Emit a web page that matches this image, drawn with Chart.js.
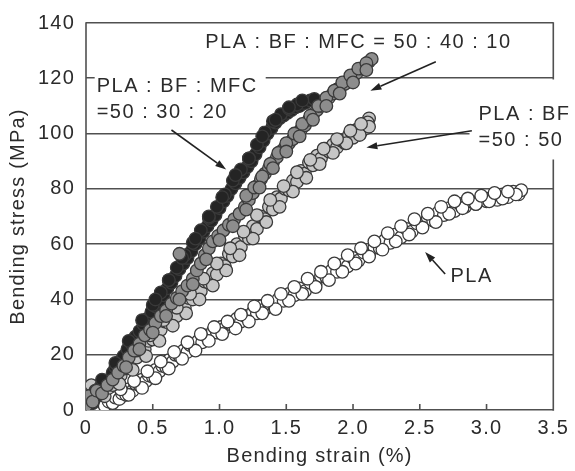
<!DOCTYPE html>
<html>
<head>
<meta charset="utf-8">
<script src="https://cdn.jsdelivr.net/npm/chart.js@4.4.1/dist/chart.umd.min.js"></script>
<style>
  html, body { margin: 0; padding: 0; background: #ffffff; }
  #c { display: block; }
</style>
</head>
<body>
<canvas id="c" width="575" height="471"></canvas>
<script>
// ---------------- data ----------------
const xTickValues = [0, 0.5, 1.0, 1.5, 2.0, 2.5, 3.0, 3.5];
const yTickValues = [0, 20, 40, 60, 80, 100, 120, 140];

// PLA (white)
const plaStrain = [0.10,0.14,0.17,0.20,0.22,0.25,0.27,0.30,0.32,0.35,0.37,0.40,0.42,0.45,0.47,0.50,0.52,0.55,0.57,0.60,
  0.62,0.65,0.67,0.70,0.73,0.76,0.78,0.81,0.84,0.87,0.89,0.92,0.95,0.98,1.01,1.04,1.07,1.10,1.13,1.16,
  1.19,1.22,1.25,1.28,1.31,1.34,1.37,1.41,1.44,1.48,1.52,1.56,1.60,1.64,1.68,1.72,1.76,1.80,1.84,1.88,
  1.92,1.96,2.00,2.04,2.08,2.12,2.16,2.20,2.24,2.28,2.32,2.36,2.40,2.44,2.48,2.52,2.56,2.60,2.64,2.68,
  2.72,2.76,2.80,2.84,2.88,2.92,2.96,3.00,3.04,3.08,3.12,3.16,3.20,3.24,3.26,
  0.32,0.42,0.52,0.62,0.72,0.82,0.92,1.02,1.12,1.22,1.32,1.42,1.52,1.62,1.72,1.82,1.92,2.02,2.12,2.22,
  2.32,2.42,2.52,2.62,2.72,2.82,2.92,3.02,3.12,3.22,
  0.26,0.36,0.46,0.56,0.66,0.76,0.86,0.96,1.06,1.16,1.26,1.36,1.46,1.56,1.66,1.76,1.86,1.96,2.06,2.16,
  2.26,2.36,2.46,2.56,2.66,2.76,2.86,2.96,3.06,3.16];
const plaStress = [0.5,1.5,3.0,2.5,4.5,4.0,6.0,5.5,7.5,7.0,9.5,9.0,11.0,10.5,12.5,12.0,14.5,14.0,16.0,15.5,
  18.0,17.5,20.0,19.5,21.5,21.0,23.5,23.0,25.0,24.5,27.0,26.5,28.5,28.0,30.0,29.5,31.5,30.5,33.0,32.0,
  34.0,33.5,35.5,35.0,37.5,36.5,38.5,37.5,40.0,39.5,42.0,41.5,44.0,43.0,46.0,45.5,48.5,48.0,50.5,50.0,
  52.5,52.0,55.0,54.0,57.0,56.0,59.0,58.5,61.5,60.5,63.5,62.5,65.5,64.5,67.5,67.0,69.5,68.5,71.5,70.5,
  73.0,72.0,74.5,73.5,75.5,74.5,76.5,75.5,77.0,76.0,78.0,77.0,79.0,78.0,79.5,
  5.5,8.0,11.5,15.0,18.5,21.5,25.0,27.5,29.5,32.0,35.0,36.5,39.5,42.0,44.5,47.0,50.0,53.0,55.5,58.0,
  61.0,63.5,66.0,68.0,71.0,73.0,74.5,75.5,76.5,78.0,
  7.5,10.5,14.0,17.5,21.0,24.5,27.5,30.0,32.0,34.5,37.5,39.5,42.0,44.5,47.5,50.0,53.0,56.0,58.5,61.0,
  64.0,66.5,69.0,71.0,73.5,75.5,76.5,77.5,78.5,79.0];

// PLA : BF = 50 : 50 (light grey)
const bfStrain = [0.00,0.02,0.04,0.06,0.10,0.14,0.17,0.20,0.23,0.26,0.29,0.32,0.35,0.38,0.41,0.44,0.47,0.50,0.53,0.56,
  0.59,0.62,0.65,0.68,0.71,0.74,0.77,0.80,0.83,0.86,0.89,0.92,0.95,0.98,1.01,1.04,1.07,1.10,1.13,1.16,
  1.19,1.22,1.25,1.28,1.31,1.34,1.37,1.40,1.43,1.46,1.49,1.52,1.55,1.58,1.61,1.64,1.67,1.70,1.73,1.76,
  1.79,1.82,1.85,1.88,1.91,1.94,1.97,2.00,2.03,2.06,2.08,2.10,2.12,2.11,
  0.25,0.35,0.45,0.55,0.65,0.75,0.85,0.95,1.05,1.15,1.25,1.35,1.45,1.55,1.65,1.75,1.85,1.95,2.05,2.12,
  0.28,0.38,0.48,0.58,0.68,0.78,0.88,0.98,1.08,1.18,1.28,1.38,1.48,1.58,1.68,1.78,1.88,1.98,2.06];
const bfStress = [2.0,6.0,9.0,4.0,6.5,5.0,8.0,9.0,11.5,12.5,15.0,16.0,18.5,19.0,21.5,22.0,25.0,25.5,28.5,29.0,
  32.0,31.5,35.0,34.0,37.5,37.0,40.5,40.0,43.5,43.0,46.5,46.0,49.5,49.0,53.0,52.0,56.5,55.5,60.0,59.0,
  63.0,62.0,66.5,65.5,70.0,69.0,73.5,72.5,77.0,76.5,80.0,79.5,83.0,82.5,86.5,85.5,89.5,88.5,92.0,91.0,
  94.5,93.5,96.0,95.0,97.5,96.5,99.5,98.5,101.5,100.5,103.5,102.0,105.5,104.0,
  9.5,14.5,19.5,25.0,30.5,35.0,40.0,45.0,50.5,56.0,62.0,68.0,73.5,79.0,84.0,89.0,93.0,96.5,99.5,102.5,
  16.5,21.5,27.0,32.5,37.0,42.0,47.5,53.0,58.5,64.5,70.5,76.0,81.0,86.0,90.5,94.5,98.0,101.0,103.5];

// PLA : BF : MFC = 50 : 40 : 10 (mid grey)
const mfc10Strain = [0.00,0.02,0.05,0.08,0.12,0.16,0.20,0.24,0.28,0.32,0.36,0.40,0.44,0.48,0.52,0.56,0.60,0.64,0.68,0.70,
  0.72,0.76,0.80,0.83,0.86,0.89,0.92,0.95,0.99,1.03,1.07,1.11,1.15,1.19,1.22,1.25,1.28,1.31,1.34,1.37,
  1.40,1.43,1.46,1.49,1.52,1.55,1.58,1.61,1.64,1.67,1.70,1.73,1.76,1.79,1.82,1.85,1.88,1.91,1.94,1.97,
  2.00,2.03,2.06,2.09,2.12,2.14,
  1.20,1.26,1.32,1.38,1.44,1.50,1.56,1.62,1.68,1.74,1.80,1.86,1.92,1.98,2.04,2.10,
  0.30,0.40,0.50,0.60,0.70,0.80,0.90,1.00,1.10,1.20,1.30,1.40,1.50,1.60,1.70,1.80,1.90,2.00,2.10];
const mfc10Stress = [1.5,5.0,3.0,7.0,6.0,9.0,11.0,13.5,16.0,19.0,21.5,24.0,27.0,29.0,31.5,34.0,36.0,38.5,40.5,56.5,
  43.0,45.0,47.5,50.5,53.0,56.0,58.5,61.0,63.0,65.0,67.0,69.0,71.0,73.5,76.0,78.5,81.0,83.5,85.5,87.5,
  89.5,91.5,93.5,95.0,96.5,98.0,100.0,101.5,103.0,105.0,107.0,108.5,110.0,111.5,113.0,114.5,116.0,117.0,118.0,119.5,
  120.5,122.0,123.5,124.5,126.0,127.0,
  77.5,80.5,84.5,89.0,93.0,96.5,100.0,103.5,106.5,110.0,113.0,115.5,118.5,121.0,123.5,125.5,
  15.5,22.0,28.0,34.0,40.0,45.5,54.5,61.5,66.5,72.5,80.5,87.5,93.5,99.0,105.0,110.0,114.5,118.5,123.0];

// PLA : BF : MFC = 50 : 30 : 20 (black)
const mfc20Strain = [0.00,0.01,0.03,0.05,0.07,0.09,0.11,0.14,0.17,0.20,0.22,0.25,0.28,0.31,0.34,0.37,0.40,0.43,0.46,0.49,
  0.52,0.55,0.58,0.61,0.64,0.67,0.70,0.73,0.76,0.79,0.82,0.85,0.88,0.91,0.94,0.97,1.00,1.03,1.06,1.09,
  1.12,1.15,1.18,1.21,1.24,1.27,1.30,1.33,1.36,1.39,1.42,1.45,1.48,1.51,1.54,1.57,1.60,1.64,1.68,1.71,
  0.50,0.56,0.62,0.68,0.74,0.80,0.86,0.92,0.98,1.04,1.10,1.16,1.22,1.28,1.34,1.40,1.46,1.52,1.58,
  0.12,0.22,0.32,0.42,0.52,0.62,0.72,0.82,0.92,1.02,1.12,1.22,1.32,1.42,1.52,1.62];
const mfc20Stress = [1.0,3.5,5.0,2.5,7.0,5.5,8.5,9.5,11.0,13.5,15.5,17.5,19.5,22.0,24.0,26.5,28.5,31.0,33.0,35.5,
  37.5,39.5,41.5,44.0,46.0,48.5,51.0,53.0,55.0,57.5,60.0,62.0,64.5,66.5,68.5,70.5,73.0,75.5,77.5,80.0,
  82.0,84.0,86.0,88.0,90.0,92.5,95.0,97.5,100.0,102.0,104.0,105.5,106.5,107.5,108.5,109.5,110.0,111.0,112.0,112.5,
  38.0,42.5,47.0,51.5,56.0,60.5,65.0,69.5,73.5,78.0,83.0,87.0,91.0,96.0,100.5,104.5,107.0,109.0,110.5,
  11.0,17.0,25.0,32.5,40.0,47.0,55.0,62.0,70.0,77.0,85.0,91.0,99.0,105.0,109.5,112.0];

// ---------------- helpers ----------------
function pairs(xs, ys) { return xs.map((v, i) => ({ x: v, y: ys[i] })); }

const FONT = '"Liberation Sans", Arial, Helvetica, sans-serif';
const FSIZE = 20;
const TEXT = '#2b2b2b';
const LINE = '#505050';
const SPACING = '1.2px';
const NOTE_SPACING = '1.5px';

// annotation labels placed in data coordinates
const notes = [
  { lines: ['PLA : BF : MFC = 50 : 40 : 10'], x: 2.04, y: 133, align: 'center' },
  { lines: ['PLA : BF : MFC', '=50 : 30 : 20'], x: 0.08, y: 117, align: 'left', pad: { l: 2, r: 8, t: 14, b: 13 } },
  { lines: ['PLA : BF', '=50 : 50'], x: 2.94, y: 106.9, align: 'left', pad: { l: 9, r: 200, t: 35, b: 19 } },
  { lines: ['PLA'], x: 2.73, y: 48.2, align: 'left' }
];
const arrows = [
  { from: [2.62, 126], to: [2.13, 115.5] },
  { from: [0.64, 101.3], to: [1.05, 87] },
  { from: [2.89, 101], to: [2.10, 95] },
  { from: [2.69, 49.2], to: [2.54, 57.2] }
];

function drawArrow(ctx, x1, y1, x2, y2) {
  const a = Math.atan2(y2 - y1, x2 - x1);
  const L = 11, W = 3.6;
  const bx = x2 - L * Math.cos(a), by = y2 - L * Math.sin(a);
  ctx.beginPath(); ctx.moveTo(x1, y1); ctx.lineTo(bx, by); ctx.stroke();
  ctx.beginPath();
  ctx.moveTo(x2, y2);
  ctx.lineTo(bx + W * Math.sin(a), by - W * Math.cos(a));
  ctx.lineTo(bx - W * Math.sin(a), by + W * Math.cos(a));
  ctx.closePath(); ctx.fill();
}

const decor = {
  id: 'decor',
  beforeUpdate(chart) { chart.ctx.letterSpacing = SPACING; },
  beforeDraw(chart) { chart.ctx.letterSpacing = SPACING; },
  beforeDatasetsDraw(chart) {
    const { ctx, chartArea: a, scales: { x } } = chart;
    ctx.save();
    ctx.strokeStyle = LINE; ctx.lineWidth = 1.6;
    ctx.beginPath();
    ctx.moveTo(a.right, a.top - 0.8); ctx.lineTo(a.right, a.bottom + 0.8);
    ctx.moveTo(a.left, a.top - 0.8); ctx.lineTo(a.left, a.bottom + 0.8);
    xTickValues.forEach(v => {
      const px = x.getPixelForValue(v);
      ctx.moveTo(px, a.bottom); ctx.lineTo(px, a.bottom - 6);
    });
    ctx.stroke();
    ctx.restore();
  },
  afterDatasetsDraw(chart) {
    const { ctx, scales: { x, y } } = chart;
    ctx.save();
    ctx.letterSpacing = NOTE_SPACING;
    ctx.font = FSIZE + 'px ' + FONT;
    ctx.textBaseline = 'middle';
    const LH = 26;
    notes.forEach(n => {
      const px = x.getPixelForValue(n.x), py = y.getPixelForValue(n.y);
      ctx.textAlign = n.align;
      if (n.pad) {
        const w = Math.max(...n.lines.map(s => ctx.measureText(s).width));
        const left = n.align === 'left' ? px : px - w / 2;
        ctx.fillStyle = '#ffffff';
        ctx.fillRect(left - n.pad.l, py - n.pad.t, w + n.pad.l + n.pad.r,
          (n.lines.length - 1) * LH + n.pad.t + n.pad.b);
      }
      ctx.fillStyle = TEXT;
      n.lines.forEach((s, i) => ctx.fillText(s, px, py + i * LH));
    });
    ctx.strokeStyle = '#222'; ctx.fillStyle = '#222'; ctx.lineWidth = 1.6;
    arrows.forEach(ar => {
      drawArrow(ctx, x.getPixelForValue(ar.from[0]), y.getPixelForValue(ar.from[1]),
        x.getPixelForValue(ar.to[0]), y.getPixelForValue(ar.to[1]));
    });
    ctx.restore();
  }
};

const pointStyle = { showLine: false, pointRadius: 6.3, pointHoverRadius: 6.3, pointBorderWidth: 1.3, borderColor: '#3a3a3a' };

new Chart(document.getElementById('c'), {
  type: 'scatter',
  data: {
    datasets: [
      Object.assign({ label: 'PLA : BF : MFC = 50 : 40 : 10', data: pairs(mfc10Strain, mfc10Stress), backgroundColor: '#8d8d8d', order: 0 }, pointStyle),
      Object.assign({ label: 'PLA : BF : MFC = 50 : 30 : 20', data: pairs(mfc20Strain, mfc20Stress), backgroundColor: '#242424', order: 1 }, pointStyle),
      Object.assign({ label: 'PLA : BF = 50 : 50', data: pairs(bfStrain, bfStress), backgroundColor: '#c6c6c6', order: 2 }, pointStyle),
      Object.assign({ label: 'PLA', data: pairs(plaStrain, plaStress), backgroundColor: '#ffffff', order: 3 }, pointStyle)
    ]
  },
  options: {
    responsive: false,
    animation: false,
    devicePixelRatio: 1,
    layout: { padding: { top: 12, right: 17, left: 0, bottom: 0 } },
    plugins: { legend: { display: false }, tooltip: { enabled: false } },
    scales: {
      x: {
        type: 'linear', min: 0, max: 3.5,
        afterFit(s) { s.height = 61; },
        afterBuildTicks(s) { s.ticks = xTickValues.map(v => ({ value: v })); },
        ticks: {
          color: TEXT, padding: 6, maxRotation: 0, autoSkip: false,
          font: { family: FONT, size: FSIZE },
          callback: v => (v === 0 ? '0' : Number(v).toFixed(1))
        },
        grid: { display: false, drawTicks: false },
        border: { display: false },
        title: { display: true, text: 'Bending strain (%)', color: TEXT, font: { family: FONT, size: FSIZE }, padding: { top: 0, bottom: 3 } }
      },
      y: {
        type: 'linear', min: 0, max: 140,
        afterFit(s) { s.width = 86; },
        afterBuildTicks(s) { s.ticks = yTickValues.map(v => ({ value: v })); },
        ticks: { color: TEXT, padding: 11, autoSkip: false, font: { family: FONT, size: FSIZE } },
        grid: { color: LINE, lineWidth: 1.6, drawTicks: false },
        border: { display: false },
        title: { display: true, text: 'Bending stress (MPa)', color: TEXT, font: { family: FONT, size: FSIZE }, padding: { top: 6, bottom: 0 } }
      }
    }
  },
  plugins: [decor]
});
</script>
</body>
</html>
